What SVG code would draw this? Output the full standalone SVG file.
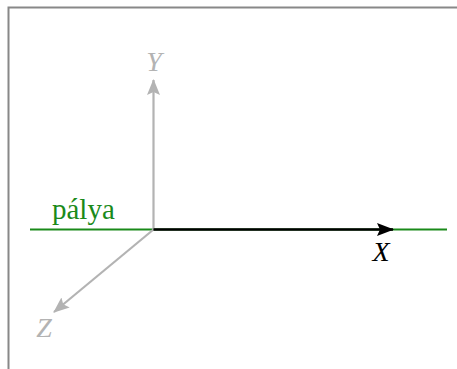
<svg xmlns="http://www.w3.org/2000/svg" width="457" height="369" viewBox="0 0 457 369">
<style>
.ax{stroke:#b3b3b3;stroke-width:2.2;fill:none}
.lbl{font-family:"Liberation Serif",serif;font-style:italic;font-size:28px;text-anchor:middle}
.trk{font-family:"Liberation Serif",serif;font-size:29px;fill:#1a8a1a}
</style>
<defs>
<marker id="ag" markerWidth="16" markerHeight="13" refX="15" refY="6.5" orient="auto" markerUnits="userSpaceOnUse"><path d="M0,0 L16,6.5 L0,13 L3,6.5 Z" fill="#b3b3b3"/></marker>
<marker id="ak" markerWidth="17" markerHeight="13" refX="16" refY="6.5" orient="auto" markerUnits="userSpaceOnUse"><path d="M0,0 L17,6.5 L0,13 L3,6.5 Z" fill="#000"/></marker>
</defs>
<rect id="frame" x="8.5" y="7.5" width="460" height="380" fill="#fff" stroke="#888" stroke-width="2"/>
<g id="connectors">
<line x1="30" y1="229.5" x2="447" y2="229.5" stroke="#1a8a1a" stroke-width="2"/>
<line class="ax" x1="153.5" y1="229.5" x2="153.5" y2="80" marker-end="url(#ag)"/>
<line class="ax" x1="153.5" y1="229.5" x2="54" y2="312" marker-end="url(#ag)"/>
<line x1="153.5" y1="229.5" x2="393" y2="229.5" stroke="#000" stroke-width="2.5" marker-end="url(#ak)"/>
</g>
<g id="labels">
<text class="lbl" x="154" y="71" fill="#b3b3b3">Y</text>
<text class="lbl" x="44" y="337" fill="#b3b3b3">Z</text>
<text class="lbl" x="381" y="261" fill="#000">X</text>
<text class="trk" x="52" y="219">pálya</text>
</g>
</svg>
